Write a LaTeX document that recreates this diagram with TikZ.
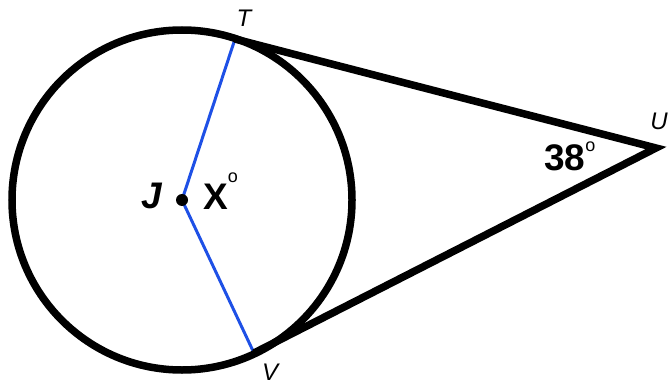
\documentclass[tikz,border=0pt]{standalone}
\usepackage{fontspec}
\setmainfont{Liberation Sans}
\begin{document}
\begin{tikzpicture}[x=1pt,y=-1pt,
  thickline/.style={line width=7.5pt,black},
  radline/.style={line width=3pt,color={rgb,255:red,30;green,80;blue,230}},
  ptlabel/.style={font=\fontsize{24}{24}\selectfont\itshape},
  biglabel/.style={font=\fontsize{37}{37}\selectfont\bfseries}]
\useasboundingbox (0,0) rectangle (668,390);
\coordinate (J) at (182,200);
\coordinate (T) at (235,39);
\coordinate (U) at (656,148);
\coordinate (V) at (254,353);
\draw[radline] (T) -- (J) -- (V);
\draw[thickline] (J) circle[radius=170];
\draw[thickline,line join=miter] (T) -- (U) -- (V);
\fill (J) circle[radius=6];
\node[ptlabel] (lT) at (244,18) {T};
\node[ptlabel,anchor=east,inner sep=0pt] (lU) at (668,121) {U};
\node[ptlabel] (lV) at (270,372) {V};
\node[biglabel,font=\fontsize{37}{37}\selectfont\bfseries\itshape] (lJ) at (152,196) {J};
\node[biglabel,anchor=base west,inner sep=0pt] (lX) at (203,209) {X\raisebox{27pt}{\fontsize{18}{18}\selectfont\mdseries o}};
\node[biglabel,anchor=base west,inner sep=0pt] (l38) at (544,170) {38\raisebox{19pt}{\fontsize{18}{18}\selectfont\mdseries o}};
\end{tikzpicture}
\end{document}
